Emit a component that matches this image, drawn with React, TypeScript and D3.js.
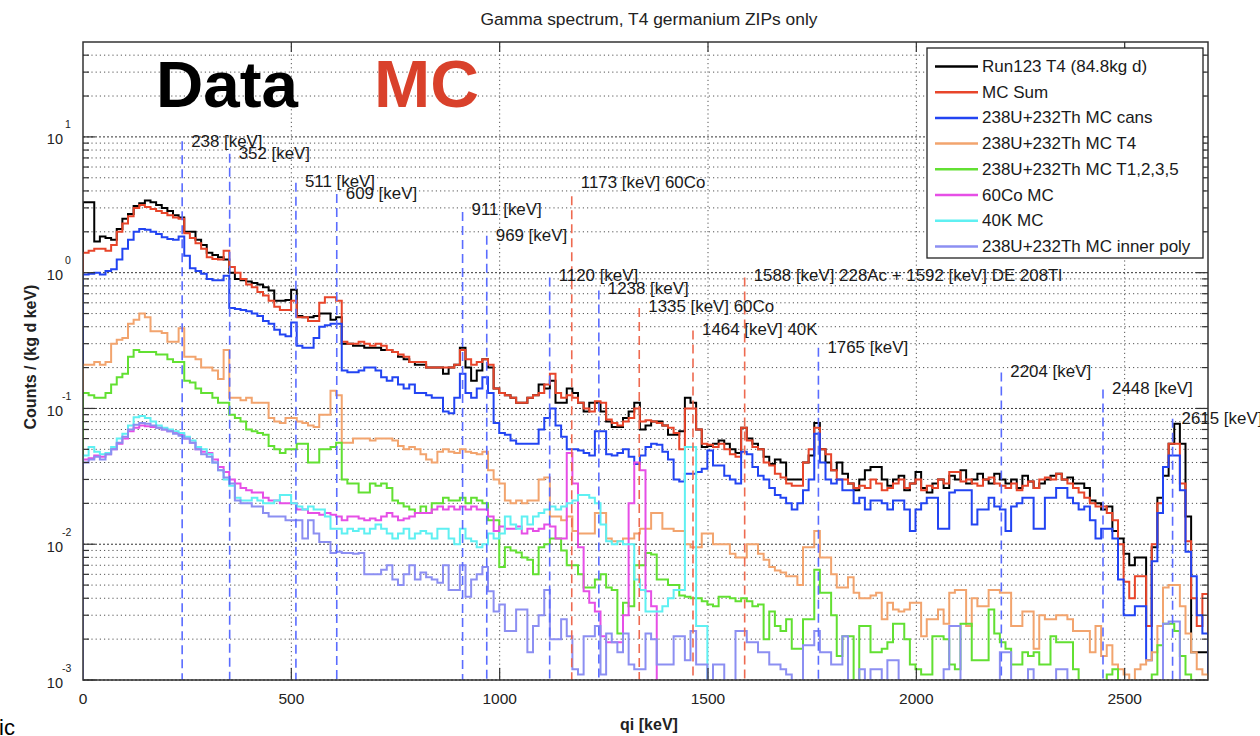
import React from 'react';
import * as d3 from 'd3';

// ---------- binning ----------
const BIN_WIDTH = 13.5; // keV
const X_MAX = 2700; // keV
const Y_MIN = 1e-3;
const Y_MAX = 50;

// ---------- series values (counts / (kg d keV)), one value per 13.5 keV bin ----------
const run123T4 = [
  3.3, 3.3, 1.7, 1.85, 1.8, 1.75, 2.1, 2.5, 2.7, 3.1,
  3.25, 3.4, 3.3, 3.15, 3.0, 2.85, 2.65, 2.55, 2.0, 2.0,
  1.75, 1.6, 1.4, 1.35, 1.3, 1.25, 1.0, 0.9, 0.88, 0.86,
  0.84, 0.82, 0.78, 0.74, 0.62, 0.62, 0.63, 0.75, 0.48, 0.47,
  0.47, 0.48, 0.5, 0.5, 0.45, 0.47, 0.3, 0.3, 0.29, 0.29,
  0.28, 0.28, 0.28, 0.27, 0.27, 0.26, 0.24, 0.23, 0.22, 0.21,
  0.21, 0.2, 0.2, 0.2, 0.18, 0.2, 0.21, 0.28, 0.2, 0.16,
  0.19, 0.23, 0.2, 0.14, 0.13, 0.125, 0.12, 0.11, 0.11, 0.12,
  0.125, 0.15, 0.14, 0.16, 0.11, 0.11, 0.14, 0.13, 0.11, 0.095,
  0.11, 0.11, 0.095, 0.08, 0.073, 0.073, 0.085, 0.095, 0.11, 0.07,
  0.075, 0.08, 0.08, 0.075, 0.064, 0.064, 0.068, 0.12, 0.11, 0.07,
  0.052, 0.053, 0.055, 0.058, 0.055, 0.05, 0.047, 0.072, 0.06, 0.055,
  0.05, 0.044, 0.039, 0.042, 0.04, 0.03, 0.03, 0.03, 0.04, 0.045,
  0.078, 0.05, 0.04, 0.035, 0.04, 0.033, 0.028, 0.025, 0.03, 0.035,
  0.037, 0.037, 0.03, 0.027, 0.03, 0.032, 0.025, 0.028, 0.034, 0.026,
  0.024, 0.028, 0.03, 0.026, 0.032, 0.03, 0.035, 0.028, 0.03, 0.033,
  0.03, 0.028, 0.033, 0.03, 0.028, 0.03, 0.026, 0.032, 0.029, 0.026,
  0.028, 0.03, 0.032, 0.033, 0.03, 0.031, 0.028, 0.028, 0.026, 0.021,
  0.02, 0.018, 0.019, 0.0125, 0.011, 0.0085, 0.007, 0.008, 0.008, 0.0025,
  0.0095, 0.022, 0.032, 0.055, 0.077, 0.055, 0.016, 0.0016, 0.0016, 0.0016,
];

const mcSum = [
  1.4, 1.45, 1.5, 1.5, 1.45, 1.6, 2.0, 2.3, 2.6, 3.0,
  3.15, 3.05, 2.95, 2.85, 2.75, 2.65, 2.55, 2.5, 1.95, 1.8,
  1.65, 1.5, 1.3, 1.26, 1.25, 1.45, 1.1, 1.0, 0.9, 0.82,
  0.78, 0.72, 0.68, 0.62, 0.56, 0.53, 0.53, 0.62, 0.47, 0.47,
  0.44, 0.44, 0.6, 0.66, 0.66, 0.62, 0.31, 0.3, 0.3, 0.31,
  0.3, 0.29, 0.3, 0.29, 0.27, 0.26, 0.25, 0.24, 0.22, 0.22,
  0.22, 0.2, 0.2, 0.2, 0.2, 0.2, 0.21, 0.27, 0.23, 0.21,
  0.22, 0.23, 0.21, 0.14, 0.13, 0.125, 0.12, 0.11, 0.11, 0.12,
  0.125, 0.13, 0.15, 0.18, 0.13, 0.12, 0.125, 0.12, 0.11, 0.1,
  0.095, 0.113, 0.11, 0.083, 0.078, 0.075, 0.08, 0.085, 0.1, 0.08,
  0.082, 0.08, 0.078, 0.075, 0.072, 0.066, 0.05, 0.1, 0.1, 0.07,
  0.055, 0.054, 0.052, 0.055, 0.05, 0.046, 0.044, 0.072, 0.058, 0.052,
  0.05, 0.04, 0.038, 0.033, 0.031, 0.028, 0.027, 0.027, 0.04, 0.05,
  0.072, 0.05, 0.046, 0.035, 0.03, 0.03, 0.028, 0.026, 0.027, 0.026,
  0.03, 0.028, 0.025, 0.026, 0.028, 0.03, 0.026, 0.028, 0.03, 0.025,
  0.027, 0.026, 0.03, 0.028, 0.034, 0.034, 0.029, 0.03, 0.028, 0.027,
  0.03, 0.031, 0.028, 0.027, 0.026, 0.028, 0.025, 0.027, 0.029, 0.026,
  0.03, 0.031, 0.03, 0.033, 0.03, 0.028, 0.026, 0.024, 0.022, 0.02,
  0.019, 0.019, 0.017, 0.015, 0.01, 0.0053, 0.004, 0.0058, 0.0058, 0.0025,
  0.01, 0.02, 0.037, 0.055, 0.055, 0.028, 0.0105, 0.004, 0.0025, 0.0043,
];

const mcCans = [
  0.97, 0.98, 1.0, 0.97, 1.03, 1.06, 1.25, 1.5, 1.75, 2.0,
  2.1, 2.07, 2.0, 1.93, 1.82, 1.77, 1.75, 1.85, 1.33, 1.08,
  1.03, 0.98, 0.9, 0.88, 0.88, 0.95, 0.55, 0.54, 0.53, 0.52,
  0.5, 0.48, 0.44, 0.42, 0.38, 0.35, 0.34, 0.43, 0.29, 0.28,
  0.28, 0.33, 0.4, 0.41, 0.42, 0.42, 0.19, 0.185, 0.185, 0.19,
  0.2, 0.2, 0.19, 0.17, 0.16, 0.17, 0.15, 0.14, 0.15, 0.13,
  0.13, 0.125, 0.12, 0.12, 0.095, 0.092, 0.12, 0.18, 0.13, 0.12,
  0.14, 0.17, 0.13, 0.078, 0.066, 0.064, 0.058, 0.055, 0.055, 0.055,
  0.055, 0.07, 0.085, 0.1, 0.075, 0.062, 0.05, 0.05, 0.049, 0.047,
  0.045, 0.068, 0.068, 0.046, 0.045, 0.047, 0.05, 0.044, 0.039, 0.045,
  0.052, 0.055, 0.054, 0.048, 0.042, 0.03, 0.029, 0.033, 0.033, 0.034,
  0.036, 0.049, 0.038, 0.038, 0.032, 0.03, 0.028, 0.048, 0.046, 0.037,
  0.032, 0.03, 0.026, 0.023, 0.022, 0.02, 0.018, 0.02, 0.025, 0.03,
  0.065, 0.04, 0.03, 0.028, 0.03, 0.025, 0.025, 0.02, 0.022, 0.018,
  0.021, 0.021, 0.02, 0.018, 0.021, 0.021, 0.018, 0.0125, 0.018, 0.02,
  0.022, 0.022, 0.013, 0.013, 0.024, 0.025, 0.025, 0.025, 0.014, 0.018,
  0.018, 0.022, 0.019, 0.018, 0.0125, 0.019, 0.02, 0.022, 0.022, 0.013,
  0.013, 0.022, 0.022, 0.026, 0.026, 0.022, 0.02, 0.018, 0.019, 0.015,
  0.011, 0.013, 0.013, 0.011, 0.0055, 0.003, 0.003, 0.0035, 0.0035, 0.0014,
  0.0075, 0.017, 0.037, 0.045, 0.045, 0.025, 0.0088, 0.0058, 0.003, 0.0022,
];

const mcT4 = [
  0.21, 0.21, 0.22, 0.21, 0.22, 0.3, 0.32, 0.33, 0.42, 0.45,
  0.5, 0.47, 0.37, 0.37, 0.36, 0.31, 0.31, 0.39, 0.24, 0.24,
  0.23, 0.2, 0.2, 0.19, 0.165, 0.27, 0.12, 0.12, 0.115, 0.12,
  0.11, 0.11, 0.11, 0.085, 0.08, 0.078, 0.085, 0.085, 0.08, 0.078,
  0.075, 0.073, 0.09, 0.09, 0.135, 0.125, 0.056, 0.056, 0.06, 0.06,
  0.06, 0.058, 0.06, 0.06, 0.06, 0.058, 0.053, 0.05, 0.052, 0.05,
  0.046, 0.042, 0.04, 0.048, 0.05, 0.048, 0.047, 0.05, 0.048, 0.047,
  0.046, 0.048, 0.035, 0.03, 0.028, 0.021, 0.02, 0.021, 0.02, 0.021,
  0.021, 0.03, 0.031, 0.016, 0.016, 0.015, 0.016, 0.0125, 0.012, 0.012,
  0.012, 0.017, 0.017, 0.011, 0.0105, 0.0105, 0.011, 0.011, 0.012, 0.013,
  0.013, 0.017, 0.017, 0.013, 0.013, 0.0125, 0.0125, 0.01, 0.0095, 0.0095,
  0.012, 0.012, 0.01, 0.01, 0.01, 0.0085, 0.008, 0.008, 0.01, 0.01,
  0.0085, 0.0077, 0.0068, 0.0064, 0.0062, 0.0058, 0.0058, 0.005, 0.0095, 0.0095,
  0.0125, 0.008, 0.008, 0.006, 0.0048, 0.0048, 0.0057, 0.0044, 0.004, 0.004,
  0.0042, 0.0044, 0.0028, 0.0037, 0.0033, 0.0032, 0.0033, 0.0037, 0.0037, 0.0021,
  0.0028, 0.0028, 0.0033, 0.0026, 0.0044, 0.0046, 0.0046, 0.0025, 0.004, 0.0035,
  0.0035, 0.0046, 0.0046, 0.0044, 0.0044, 0.0025, 0.0025, 0.0032, 0.0032, 0.0017,
  0.003, 0.0028, 0.0028, 0.003, 0.003, 0.0028, 0.0023, 0.0023, 0.0023, 0.0016,
  0.0025, 0.0015, 0.0018, 0.0013, 0.0012, 0.0011, 0.0009, 0.0012, 0.0013, 0.0014,
  0.0016, 0.0025, 0.0048, 0.005, 0.005, 0.0035, 0.0022, 0.0016, 0.0012, 0.0011,
];

const mcT1235 = [
  0.13, 0.125, 0.12, 0.12, 0.13, 0.15, 0.17, 0.18, 0.24, 0.27,
  0.26, 0.26, 0.26, 0.25, 0.25, 0.23, 0.22, 0.22, 0.16, 0.155,
  0.14, 0.13, 0.13, 0.12, 0.11, 0.11, 0.09, 0.085, 0.08, 0.07,
  0.068, 0.066, 0.064, 0.053, 0.05, 0.047, 0.05, 0.05, 0.055, 0.055,
  0.04, 0.04, 0.05, 0.05, 0.052, 0.056, 0.03, 0.028, 0.028, 0.024,
  0.024, 0.028, 0.027, 0.028, 0.026, 0.021, 0.02, 0.019, 0.018, 0.017,
  0.019, 0.017, 0.02, 0.02, 0.022, 0.021, 0.021, 0.022, 0.02, 0.022,
  0.021, 0.02, 0.015, 0.015, 0.0068, 0.0095, 0.009, 0.0087, 0.008, 0.0077,
  0.006, 0.0095, 0.01, 0.011, 0.011, 0.009, 0.007, 0.007, 0.006, 0.0048,
  0.0048, 0.0055, 0.006, 0.0048, 0.0046, 0.0022, 0.0037, 0.0035, 0.007, 0.007,
  0.0086, 0.0084, 0.0055, 0.0055, 0.005, 0.005, 0.0042, 0.0041, 0.004, 0.004,
  0.0038, 0.0036, 0.0035, 0.0041, 0.0041, 0.004, 0.0038, 0.004, 0.0038, 0.0035,
  0.0036, 0.002, 0.0032, 0.0025, 0.0023, 0.0028, 0.0017, 0.0017, 0.0028, 0.0028,
  0.0065, 0.0044, 0.0044, 0.003, 0.0015, 0.0021, 0.0021, 0, 0.0025, 0.0025,
  0.0016, 0.0016, 0.0017, 0.0019, 0.0026, 0.0026, 0.002, 0.0013, 0.0012, 0.0011,
  0.0011, 0.0021, 0.0021, 0.002, 0.0013, 0.0012, 0.0026, 0.0026, 0.0014, 0.0014,
  0.0014, 0.0033, 0.0022, 0.0019, 0.0017, 0.0013, 0.0013, 0.0016, 0.0015, 0.0016,
  0.0013, 0.0013, 0.0021, 0.0019, 0.0019, 0.0019, 0.0012, 0, 0, 0,
  0, 0, 0.0011, 0.0012, 0, 0, 0, 0, 0, 0,
  0.0011, 0.0018, 0.0026, 0.0026, 0.0023, 0.0015, 0.0011, 0, 0, 0,
];

// bins beyond the listed values are empty
const co60MC = [
  0.042, 0.043, 0.045, 0.044, 0.046, 0.05, 0.055, 0.06, 0.068, 0.072,
  0.075, 0.074, 0.073, 0.072, 0.07, 0.068, 0.066, 0.064, 0.06, 0.056,
  0.05, 0.048, 0.047, 0.042, 0.037, 0.034, 0.03, 0.028, 0.026, 0.025,
  0.024, 0.024, 0.022, 0.021, 0.021, 0.02, 0.02, 0.02, 0.018, 0.018,
  0.017, 0.017, 0.0165, 0.017, 0.0165, 0.016, 0.015, 0.016, 0.016, 0.0155,
  0.015, 0.0155, 0.015, 0.016, 0.017, 0.016, 0.015, 0.0155, 0.016, 0.017,
  0.017, 0.017, 0.018, 0.019, 0.018, 0.019, 0.018, 0.019, 0.018, 0.019,
  0.018, 0.018, 0.016, 0.0125, 0.0135, 0.013, 0.013, 0.0135, 0.012, 0.013,
  0.0125, 0.013, 0.014, 0.0135, 0.011, 0.011, 0.047, 0.028, 0.0095, 0.0045,
  0.0037, 0.0032, 0.0021, 0.0019, 0.0019, 0.0019, 0.003, 0.02, 0.04, 0.035,
  0.0045, 0.0035,
];

const k40MC = [
  0.045, 0.052, 0.048, 0.046, 0.047, 0.052, 0.06, 0.065, 0.075, 0.086,
  0.088, 0.085, 0.08, 0.075, 0.072, 0.07, 0.068, 0.066, 0.062, 0.058,
  0.052, 0.05, 0.046, 0.04, 0.035, 0.03, 0.027, 0.022, 0.021, 0.021,
  0.022, 0.021, 0.02, 0.02, 0.021, 0.023, 0.023, 0.02, 0.019, 0.018,
  0.019, 0.018, 0.018, 0.016, 0.013, 0.013, 0.012, 0.013, 0.0125, 0.013,
  0.012, 0.013, 0.014, 0.013, 0.012, 0.011, 0.012, 0.013, 0.011, 0.012,
  0.0125, 0.012, 0.011, 0.013, 0.013, 0.011, 0.01, 0.013, 0.011, 0.0105,
  0.0095, 0.01, 0.012, 0.011, 0.012, 0.016, 0.014, 0.013, 0.016, 0.014,
  0.016, 0.017, 0.018, 0.019, 0.018, 0.019, 0.02, 0.021, 0.023, 0.023,
  0.022, 0.02, 0.014, 0.0105, 0.01, 0.0105, 0.01, 0.01, 0.0055, 0.0046,
  0.0032, 0.0032, 0.0032, 0.0035, 0.004, 0.0046, 0.0046, 0.052, 0.052, 0.0025,
  0.0025,
];

const mcInnerPoly = [
  0.04, 0.042, 0.044, 0.042, 0.046, 0.05, 0.056, 0.062, 0.07, 0.076,
  0.078, 0.077, 0.075, 0.072, 0.07, 0.068, 0.065, 0.063, 0.06, 0.056,
  0.05, 0.046, 0.044, 0.04, 0.035, 0.031, 0.028, 0.021, 0.02, 0.02,
  0.019, 0.019, 0.017, 0.016, 0.016, 0.016, 0.015, 0.015, 0.015, 0.011,
  0.015, 0.012, 0.0104, 0.0104, 0.0086, 0.0088, 0.0086, 0.0086, 0.0085, 0.0086,
  0.006, 0.006, 0.006, 0.0065, 0.007, 0.0055, 0.005, 0.006, 0.007, 0.0055,
  0.0062, 0.0057, 0.0055, 0.0052, 0.007, 0.0046, 0.0046, 0.007, 0.0041, 0.0055,
  0.006, 0.0068, 0.0045, 0.0032, 0.0036, 0.0023, 0.0023, 0.0033, 0.0033, 0.0016,
  0.0025, 0.003, 0.0046, 0.002, 0.002, 0.0028, 0.0021, 0.0012, 0.0011, 0.0021,
  0.0021, 0.0025, 0.0011, 0.0022, 0.0019, 0.0016, 0.0022, 0.0013, 0.0012, 0.0012,
  0.0022, 0.002, 0.0013, 0.0013, 0.0013, 0.0021, 0.0021, 0.0014, 0.0023, 0.0013,
  0.0013, 0, 0.0013, 0.0013, 0, 0, 0.0023, 0.0023, 0.0019, 0.0019,
  0.0016, 0.0016, 0.0013, 0.0013, 0.0012, 0.0011, 0, 0, 0.0018, 0.0018,
  0.0023, 0.0016, 0.0016, 0.0013, 0.0013, 0.0021, 0, 0, 0.0012, 0,
  0.0012, 0.0012, 0, 0.0014, 0.0014, 0, 0, 0, 0, 0,
  0, 0, 0, 0.0012, 0.0025, 0.0025, 0, 0, 0, 0,
  0, 0, 0, 0.0016, 0.0016, 0, 0, 0, 0.0012, 0,
  0, 0, 0, 0.0012, 0.0012, 0, 0, 0, 0, 0,
  0, 0, 0, 0, 0, 0, 0, 0, 0, 0,
  0, 0, 0.0026, 0.0027, 0.0027, 0, 0, 0, 0, 0,
];

const seriesNames = [
  'Run123 T4 (84.8kg d)',
  'MC Sum',
  '238U+232Th MC cans',
  '238U+232Th MC T4',
  '238U+232Th MC T1,2,3,5',
  '60Co MC',
  '40K MC',
  '238U+232Th MC inner poly',
];
const seriesValues = [run123T4, mcSum, mcCans, mcT4, mcT1235, co60MC, k40MC, mcInnerPoly];
const seriesColors = ['#000000', '#e8452a', '#2244f2', '#f2a46e', '#62e032', '#e64fe6', '#5ff0f2', '#8c8ff2'];

// ---------- gamma line annotations ----------
const lineEnergies = [238, 352, 511, 609, 911, 969, 1120, 1173, 1238, 1335, 1464, 1588, 1765, 2204, 2448, 2615];
const lineLabels = [
  '238 [keV]', '352 [keV]', '511 [keV]', '609 [keV]', '911 [keV]', '969 [keV]', '1120 [keV]',
  '1173 [keV] 60Co', '1238 [keV]', '1335 [keV] 60Co', '1464 [keV] 40K',
  '1588 [keV] 228Ac + 1592 [keV] DE 208Tl', '1765 [keV]', '2204 [keV]', '2448 [keV]', '2615 [keV]',
];
const lineIsChainU = [true, true, true, true, true, true, true, false, true, false, false, false, true, true, true, true];
const lineTops = [9.3, 7.5, 4.6, 3.8, 2.8, 1.87, 0.92, 3.65, 0.74, 0.55, 0.375, 0.92, 0.28, 0.184, 0.138, 0.084];
const labelLevels = [9.3, 7.6, 4.7, 3.8, 2.9, 1.87, 0.95, 4.65, 0.76, 0.56, 0.38, 0.95, 0.28, 0.187, 0.14, 0.085];

const xTicks = [0, 500, 1000, 1500, 2000, 2500];
const yDecades = [-3, -2, -1, 0, 1];

const FONT = "'Liberation Sans', Arial, Helvetica, sans-serif";

export default function App() {
  const W = 1260;
  const H = 736;
  const L = 83, R = 1208, T = 42, B = 680;
  const x = d3.scaleLinear().domain([0, X_MAX]).range([L, R]);
  const y = d3.scaleLog().domain([Y_MIN, Y_MAX]).range([B, T]);
  const FLOOR = 1e-5;
  const nBins = Math.round(X_MAX / BIN_WIDTH);

  const stepLine = d3
    .line<[number, number]>()
    .x((d) => x(d[0]))
    .y((d) => y(d[1]))
    .curve(d3.curveStepAfter);

  const histPath = (vals: number[]) => {
    const pts: [number, number][] = [[0, FLOOR]];
    for (let i = 0; i < nBins; i++) {
      const v = vals[i];
      pts.push([i * BIN_WIDTH, v && v > 0 ? v : FLOOR]);
    }
    const last = pts[pts.length - 1][1];
    pts.push([X_MAX, last]);
    pts.push([X_MAX, FLOOR]);
    return stepLine(pts) || '';
  };

  const yTickVals: { v: number; major: boolean }[] = [];
  for (const e of yDecades) {
    for (let m = 1; m <= 9; m++) {
      const v = m * Math.pow(10, e);
      if (v < Y_MAX * 0.999) yTickVals.push({ v, major: m === 1 });
    }
  }

  const legendX = 927, legendY = 48, legendW = 276, legendH = 210;
  const rowH = 25.7;

  return (
    <div style={{ position: 'absolute', left: 0, top: 0 }}>
      <svg width={W} height={H} viewBox={`0 0 ${W} ${H}`} style={{ display: 'block', background: '#fff' }} fontFamily={FONT}>
        <defs>
          <clipPath id="plotClip">
            <rect x={L} y={T} width={R - L} height={B - T} />
          </clipPath>
        </defs>

        {/* grid */}
        <g>
          {yTickVals.map((t, i) => (
            <line key={'gy' + i} x1={L} x2={R} y1={y(t.v)} y2={y(t.v)} stroke={t.major ? '#333' : '#555'}
              strokeWidth={1} strokeDasharray={t.major ? '2,2' : '1.2,3'} />
          ))}
          {xTicks.filter((t) => t > 0).map((t) => (
            <line key={'gx' + t} x1={x(t)} x2={x(t)} y1={T} y2={B} stroke="#555" strokeWidth={1} strokeDasharray="1.2,3" />
          ))}
        </g>

        {/* histograms */}
        <g clipPath="url(#plotClip)">
          {seriesValues.map((vals, i) => (
            <path key={'h' + i} d={histPath(vals)} fill="none" stroke={seriesColors[i]} strokeWidth={2} strokeLinejoin="miter" />
          ))}
        </g>

        {/* gamma lines */}
        <g>
          {lineEnergies.map((e, i) => (
            <line key={'al' + i} x1={x(e)} x2={x(e)} y1={y(lineTops[i])} y2={B}
              stroke={lineIsChainU[i] ? '#5a6cff' : '#ee6a50'} strokeWidth={1.6} strokeDasharray="9,5" />
          ))}
          {lineEnergies.map((e, i) => (
            <text key={'at' + i} x={x(e) + 9} y={y(labelLevels[i])} dominantBaseline="central" fontSize={16.9} fill="#1a1a1a">
              {lineLabels[i]}
            </text>
          ))}
        </g>

        {/* frame */}
        <rect x={L} y={T} width={R - L} height={B - T} fill="none" stroke="#333" strokeWidth={1.5} />

        {/* y ticks (left + right) and x ticks (bottom + top) */}
        <g stroke="#333" strokeWidth={1.2}>
          {yTickVals.map((t, i) => {
            const len = t.major ? 12 : 6;
            const yy = y(t.v);
            return (
              <g key={'yt' + i}>
                <line x1={L} x2={L + len} y1={yy} y2={yy} />
                <line x1={R} x2={R - len} y1={yy} y2={yy} />
              </g>
            );
          })}
          {xTicks.filter((t) => t > 0).map((t) => (
            <g key={'xt' + t}>
              <line x1={x(t)} x2={x(t)} y1={B} y2={B - 12} />
              <line x1={x(t)} x2={x(t)} y1={T} y2={T + 10} />
            </g>
          ))}
        </g>

        {/* y tick labels */}
        <g fill="#222">
          {yDecades.map((e) => (
            <text key={'yl' + e} x={63} y={y(Math.pow(10, e)) + 7.5} fontSize={14.5} textAnchor="end">
              10
            </text>
          ))}
          {yDecades.map((e) => (
            <text key={'ys' + e} x={e < 0 ? 62 : 65} y={y(Math.pow(10, e)) - 8.5} fontSize={10.5}>
              {String(e)}
            </text>
          ))}
        </g>

        {/* x tick labels */}
        <g fill="#222">
          {xTicks.map((t) => (
            <text key={'xl' + t} x={x(t)} y={704} fontSize={15.5} textAnchor="middle">
              {String(t)}
            </text>
          ))}
        </g>

        {/* axis titles */}
        <text x={649} y={730} fontSize={16} fontWeight="bold" textAnchor="middle" fill="#222">qi [keV]</text>
        <text transform="translate(36,357) rotate(-90)" fontSize={16} fontWeight="bold" textAnchor="middle" fill="#222">
          Counts / (kg d keV)
        </text>
        <text x={649} y={25} fontSize={17.4} textAnchor="middle" fill="#222">Gamma spectrum, T4 germanium ZIPs only</text>

        {/* legend */}
        <g>
          <rect x={legendX} y={legendY} width={legendW} height={legendH} fill="#fff" stroke="#222" strokeWidth={1.3} />
          {seriesNames.map((n, i) => {
            const cy = legendY + 18.5 + i * rowH;
            return (
              <g key={'lg' + i}>
                <line x1={935} x2={978} y1={cy} y2={cy} stroke={seriesColors[i]} strokeWidth={2.5} />
                <text x={982} y={cy} dominantBaseline="central" fontSize={17} fill="#1a1a1a">{n}</text>
              </g>
            );
          })}
        </g>

        {/* big overlay labels */}
        <text x={156} y={107} fontSize={65.5} fontWeight="bold" fill="#000">Data</text>
        <text x={374} y={107} fontSize={67.5} fontWeight="bold" fill="#d9412b">MC</text>
        <text x={-1} y={735} fontSize={22} fill="#000">ic</text>
      </svg>
    </div>
  );
}
